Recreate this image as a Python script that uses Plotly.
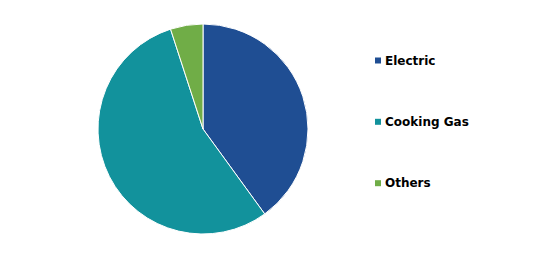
import plotly.graph_objects as go

categories = ["Electric", "Cooking Gas", "Others"]
values = [40, 55, 5]
colors = ["#1F4E93", "#12929C", "#70AD47"]

W, H = 535, 260

fig = go.Figure(go.Pie(
    labels=categories,
    values=values,
    marker=dict(colors=colors, line=dict(color="white", width=1)),
    sort=False,
    direction="clockwise",
    rotation=0,
    textinfo="none",
    hoverinfo="label+percent",
    showlegend=False,
    domain=dict(x=[98 / W, 308 / W], y=[1 - 234 / H, 1 - 24 / H]),
))

# manual legend
leg_y = [60.5, 121.8, 183.2]
for cat, col, yy in zip(categories, colors, leg_y):
    fig.add_shape(type="rect", xref="paper", yref="paper",
                  x0=375 / W, x1=381 / W, y0=1 - (yy + 3) / H, y1=1 - (yy - 3) / H,
                  fillcolor=col, line=dict(width=0))
    fig.add_annotation(x=383 / W, y=1 - yy / H, xref="paper", yref="paper",
                       text="<b>" + cat + "</b>", showarrow=False,
                       xanchor="left", yanchor="middle",
                       font=dict(family="DejaVu Sans", size=12, color="black"))

fig.update_layout(
    width=W, height=H,
    margin=dict(l=0, r=0, t=0, b=0),
    paper_bgcolor="white",
    plot_bgcolor="white",
)

fig.write_html("out.html")
